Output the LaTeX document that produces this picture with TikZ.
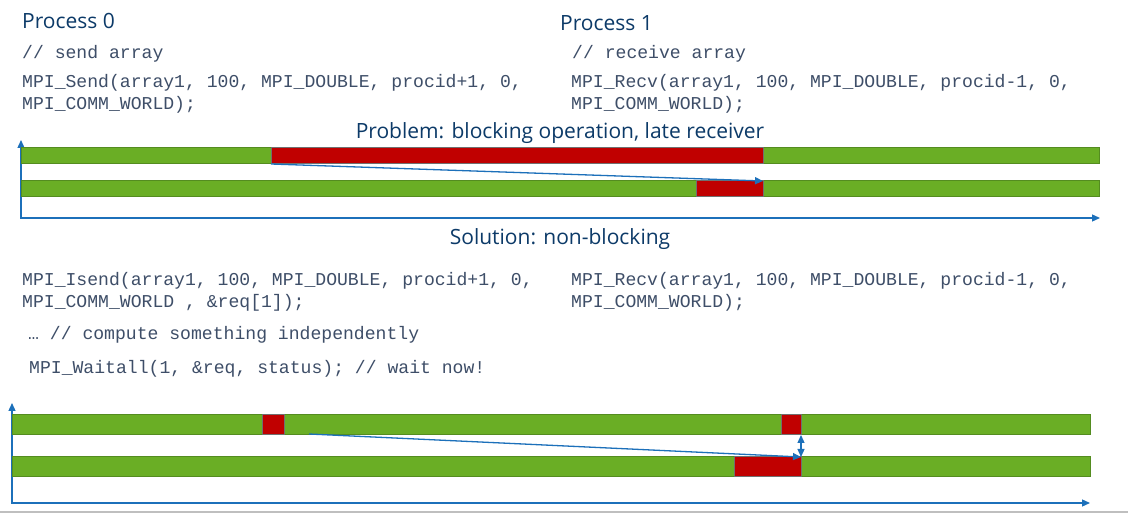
\documentclass[tikz,border=0pt]{standalone}
\usepackage{fontspec}
\setmainfont{Open Sans}
\newfontfamily\codefont{Liberation Mono}
\usetikzlibrary{arrows.meta,positioning}
\definecolor{headblue}{RGB}{12,58,104}
\definecolor{codegray}{RGB}{62,78,104}
\definecolor{bargreen}{RGB}{106,174,37}
\definecolor{barline}{RGB}{84,140,32}
\definecolor{busyred}{RGB}{192,0,0}
\definecolor{boxgray}{RGB}{112,112,112}
\definecolor{axisblue}{RGB}{28,112,186}
\tikzset{
  head/.style={anchor=base west,text=headblue,font=\fontsize{21}{24}\selectfont,inner sep=0pt},
  code/.style={anchor=base west,text=codegray,font=\codefont\fontsize{18.1}{22}\selectfont,inner sep=0pt},
  bar/.style={fill=bargreen,draw=barline,line width=1pt},
  busy/.style={fill=busyred,draw=boxgray,line width=1pt},
  axis/.style={draw=axisblue,line width=1.3pt,{Triangle[length=8pt,width=7pt]}-{Triangle[length=8pt,width=7pt]}},
  msg/.style={draw=axisblue,line width=1.3pt,-{Triangle[length=8pt,width=7pt]}}
}
\begin{document}
\begin{tikzpicture}[x=1pt,y=-1pt]
\useasboundingbox[fill=white] (0,0) rectangle (1128,518);
\node[head] (p0) at (22,29) {Process 0};
\node[head] (p1) at (560,31) {Process 1};
\node[code] (sendc) at (22,59) {// send array};
\node[code] (senda) at (22,88) {MPI\_Send(array1, 100, MPI\_DOUBLE, procid+1, 0,};
\node[code] (sendb) at (22,110) {MPI\_COMM\_WORLD);};
\node[code] (recvc) at (572,59) {// receive array};
\node[code] (recva) at (571,88) {MPI\_Recv(array1, 100, MPI\_DOUBLE, procid-1, 0,};
\node[code] (recvb) at (571,110) {MPI\_COMM\_WORLD);};
\node[head,anchor=base] (prob) at (560,139) {Problem: blocking operation, late receiver};
\coordinate (o1) at (21,218);
\coordinate (t1) at (21,140);
\coordinate (e1) at (1100,218);
\draw[axis] (t1)--(o1)--(e1);
\draw[bar] (21,148) rectangle (1099,164);
\draw[bar] (21,181) rectangle (1099,197);
\draw[busy] (271,148) rectangle (763,164);
\draw[busy] (696,181) rectangle (763,197);
\coordinate (s1) at (271,164);
\coordinate (r1) at (763,181);
\draw[msg] (s1)--(r1);
\node[head,anchor=base] (sol) at (560,245) {Solution: non-blocking};
\node[code] (isenda) at (22,286) {MPI\_Isend(array1, 100, MPI\_DOUBLE, procid+1, 0,};
\node[code] (isendb) at (22,308) {MPI\_COMM\_WORLD , \&req[1]);};
\node[code] (irecva) at (571,286) {MPI\_Recv(array1, 100, MPI\_DOUBLE, procid-1, 0,};
\node[code] (irecvb) at (571,308) {MPI\_COMM\_WORLD);};
\node[code] (comp) at (28,340) {… // compute something independently};
\node[code] (wait) at (29,374) {MPI\_Waitall(1, \&req, status); // wait now!};
\coordinate (o2) at (12,503);
\coordinate (t2) at (12,403);
\coordinate (e2) at (1090,503);
\draw[axis] (t2)--(o2)--(e2);
\draw[bar] (12,415) rectangle (1090,435);
\draw[bar] (12,457) rectangle (1090,477);
\draw[busy] (262,415) rectangle (284,435);
\draw[busy] (781,415) rectangle (801,435);
\draw[busy] (734,457) rectangle (801,477);
\coordinate (s2) at (309,434);
\coordinate (r2) at (801,457);
\coordinate (w2) at (801,435);
\draw[msg] (s2)--(r2);
\draw[axis] (w2)--(r2);
\draw[line width=2pt,black!25] (0,512)--(1128,512);
\end{tikzpicture}
\end{document}
